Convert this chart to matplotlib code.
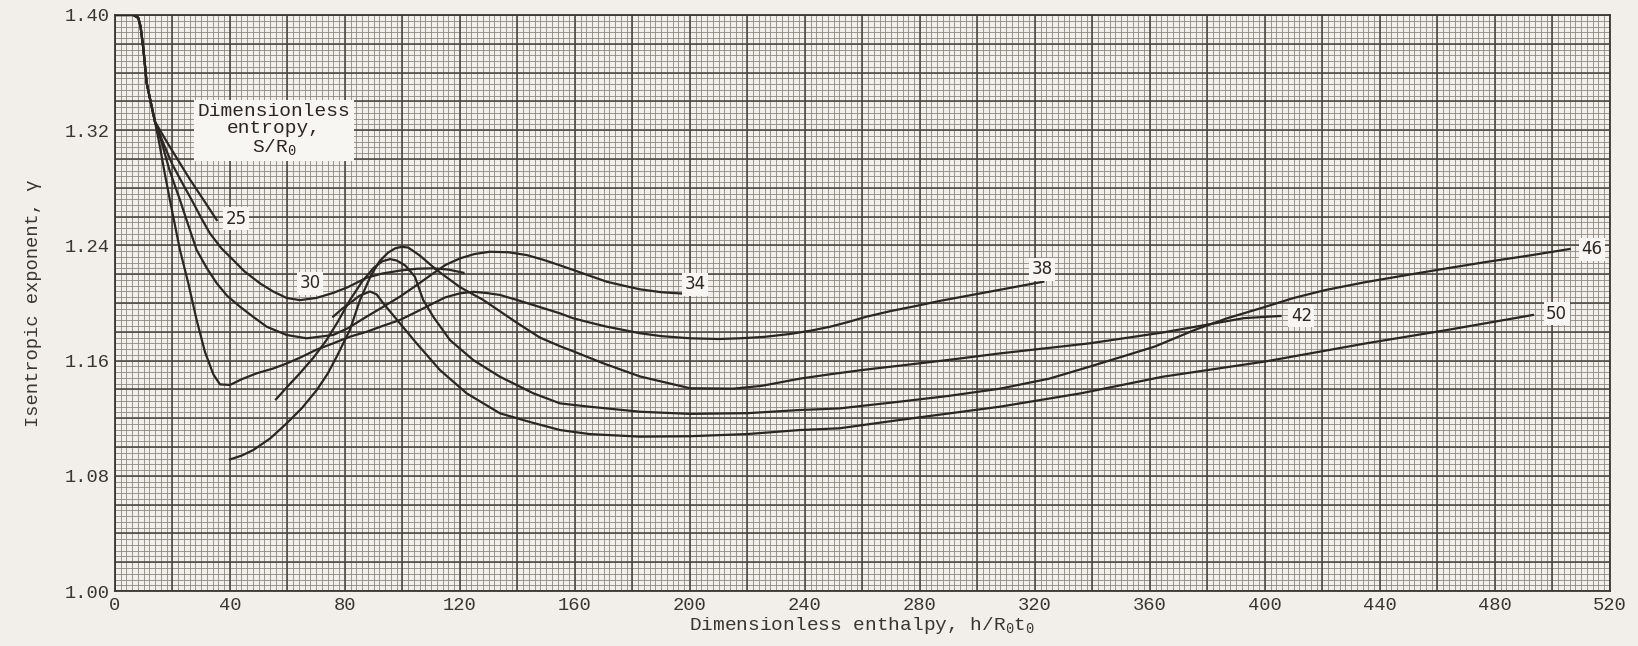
import numpy as np
import matplotlib.pyplot as plt

# isentropic exponent vs dimensionless enthalpy, one curve per S/R0
h_25 = [0, 4, 6.4, 8.1, 8.9, 9.9, 11.0, 12.8, 13.9, 18, 22, 26, 30, 35.4]
g_25 = [1.400, 1.400, 1.400, 1.398, 1.392, 1.376, 1.353, 1.336, 1.326, 1.312, 1.299, 1.286, 1.274, 1.2576]

h_30 = [0, 4, 6.4, 8.1, 8.9, 9.9, 11.0, 12.8, 13.9, 17, 20, 23.5, 26.7, 30, 33, 37, 41.1, 45, 50.4, 55,
        59.7, 64.3, 70, 75.9, 81, 87.5, 93, 99.1, 105, 110.7, 116, 121.2]
g_30 = [1.400, 1.400, 1.400, 1.398, 1.392, 1.376, 1.353, 1.336, 1.326, 1.310, 1.296, 1.283, 1.2715, 1.259,
        1.2484, 1.238, 1.2299, 1.222, 1.2137, 1.208, 1.2035, 1.202, 1.2035, 1.207, 1.211, 1.2175, 1.2205,
        1.2225, 1.2238, 1.2241, 1.2232, 1.221]

h_34 = [0, 4, 6.4, 8.1, 8.9, 9.9, 11.0, 12.8, 13.9, 16, 19, 22.6, 25, 28.4, 32, 35.4, 39, 43.5, 48, 52.8,
        59.7, 66.7, 75.9, 81, 87.5, 93, 99.1, 105, 110.7, 115, 120, 125, 130.4, 137, 143.2, 149, 155, 160,
        165, 171, 177, 182.6, 190, 199.4]
g_34 = [1.400, 1.400, 1.400, 1.398, 1.392, 1.376, 1.353, 1.336, 1.326, 1.313, 1.292, 1.2715, 1.257, 1.2368,
        1.224, 1.2137, 1.205, 1.1974, 1.1905, 1.1835, 1.1778, 1.1755, 1.1778, 1.1825, 1.1905, 1.197, 1.2044,
        1.2125, 1.2206, 1.2265, 1.231, 1.234, 1.2356, 1.2352, 1.2333, 1.230, 1.226, 1.2225, 1.219, 1.2148,
        1.212, 1.2095, 1.2075, 1.2063]

h_38 = [0, 4, 6.4, 8.1, 8.9, 9.9, 11.0, 12.8, 13.9, 15.5, 17.3, 19.1, 22.6, 25.5, 28.4, 31.3, 34.2, 36.5,
        40, 44, 49.3, 55, 59.7, 64.3, 70, 75.9, 81.7, 87.5, 93, 99.1, 105, 110.7, 115, 120, 124.6, 129,
        133.9, 140, 145.5, 154.8, 159.4, 165, 171, 182.6, 190, 200, 210, 217.4, 226, 234.8, 242, 248.7,
        255, 261.4, 270, 278.8, 287, 296.2, 310, 322.9]
g_38 = [1.400, 1.400, 1.400, 1.398, 1.392, 1.376, 1.353, 1.336, 1.326, 1.310, 1.290, 1.2715, 1.2368, 1.2137,
        1.1882, 1.166, 1.1505, 1.1435, 1.1431, 1.147, 1.1512, 1.1545, 1.158, 1.162, 1.1675, 1.172, 1.1766,
        1.180, 1.184, 1.1882, 1.194, 1.1998, 1.204, 1.2067, 1.2078, 1.207, 1.2056, 1.202, 1.1986, 1.1928,
        1.1894, 1.1865, 1.1836, 1.179, 1.177, 1.1755, 1.175, 1.1755, 1.1765, 1.1785, 1.1808, 1.1835,
        1.1868, 1.1905, 1.1945, 1.198, 1.2015, 1.2049, 1.210, 1.2148]

h_42 = [40, 44, 48.1, 54, 59.7, 65, 70.2, 74, 77.1, 81.7, 85.2, 89, 92, 95, 97.5, 99.7, 102, 106, 111.9,
        120, 128.1, 140, 147.8, 154.8, 160, 170, 182.6, 200, 215, 225, 238.3, 248.7, 260, 273, 290, 307.8,
        339, 364.4, 381.4, 392.7, 405.4]
g_42 = [1.0914, 1.094, 1.0979, 1.106, 1.1164, 1.127, 1.1396, 1.151, 1.1627, 1.1813, 1.202, 1.219, 1.229,
        1.235, 1.238, 1.239, 1.2385, 1.233, 1.2229, 1.211, 1.2021, 1.186, 1.176, 1.170, 1.166, 1.158, 1.149,
        1.1408, 1.1405, 1.1425, 1.1475, 1.1505, 1.1535, 1.1565, 1.1605, 1.165, 1.172, 1.1795, 1.1855,
        1.1895, 1.191]

h_46 = [56, 60, 64.3, 69, 73.6, 77.5, 81.7, 86, 90, 93, 95.7, 98, 101, 104.3, 107.2, 110.7, 116.5, 124.6,
        133.9, 145.5, 154.8, 165, 182.6, 200, 220, 238.3, 252, 273, 290, 307.8, 325, 339, 361.6, 375.8,
        387, 398.4, 410, 421, 435, 449.3, 463, 477.6, 492, 506]
g_46 = [1.1331, 1.142, 1.1512, 1.162, 1.1743, 1.187, 1.202, 1.215, 1.2245, 1.229, 1.2305, 1.2295, 1.226,
        1.2183, 1.2021, 1.1905, 1.1743, 1.1604, 1.1488, 1.1373, 1.1303, 1.128, 1.1245, 1.123, 1.1235,
        1.1257, 1.1268, 1.1315, 1.1355, 1.1405, 1.1475, 1.1558, 1.1697, 1.1815, 1.1895, 1.1963, 1.2035,
        1.209, 1.2145, 1.2194, 1.224, 1.2287, 1.233, 1.2375]

h_50 = [75.9, 79, 81.7, 85, 88.7, 91, 93.3, 99.1, 104.9, 113, 122.3, 133.9, 145, 154.8, 165, 182.6, 200,
        220, 238.3, 252, 273, 307.8, 336, 364.4, 399.8, 435.2, 463.5, 493.2]
g_50 = [1.1905, 1.196, 1.1998, 1.205, 1.208, 1.206, 1.1998, 1.1859, 1.172, 1.1535, 1.1373, 1.1234, 1.117,
        1.1118, 1.109, 1.1072, 1.1075, 1.109, 1.1118, 1.113, 1.1188, 1.128, 1.1373, 1.1488, 1.1593, 1.172,
        1.1813, 1.1917]

curves = [('25', h_25, g_25), ('30', h_30, g_30), ('34', h_34, g_34), ('38', h_38, g_38),
          ('42', h_42, g_42), ('46', h_46, g_46), ('50', h_50, g_50)]

x_ticks = [0, 40, 80, 120, 160, 200, 240, 280, 320, 360, 400, 440, 480, 520]
y_ticks = [1.00, 1.08, 1.16, 1.24, 1.32, 1.40]

PAPER = '#f2efea'
INK = '#2b2622'
MONO = ['Liberation Mono', 'DejaVu Sans']

fig = plt.figure(figsize=(16.38, 6.46), dpi=100, facecolor=PAPER)
ax = fig.add_axes([0.0702, 0.0851, 0.9127, 0.8917], facecolor=PAPER)
ax.set_xlim(0, 520)
ax.set_ylim(1.00, 1.40)

# graph paper
ax.vlines(np.arange(0, 521, 2), 1.0, 1.4, color='#8c8680', lw=0.6, zorder=1)
ax.hlines(np.arange(1.0, 1.4001, 0.004), 0, 520, color='#8c8680', lw=0.6, zorder=1)
ax.vlines(np.arange(0, 521, 20), 1.0, 1.4, color='#46413c', lw=1.1, zorder=1)
ax.hlines(np.arange(1.0, 1.4001, 0.02), 0, 520, color='#46413c', lw=1.1, zorder=1)

for name, h, g in curves:
    ax.plot(h, g, color=INK, lw=1.6, zorder=3, solid_joinstyle='round')

box = dict(boxstyle='square,pad=0.15', fc='#f8f6f2', ec='none')
lab = dict(fontsize=12, color=INK, zorder=5, bbox=box, va='center', ha='center')
ax.annotate('25', (h_25[-1], g_25[-1]), xytext=(14, 1), textcoords='offset points', **lab)
ax.text(67.8, 1.2137, '30', **lab)
ax.annotate('34', (h_34[-1], g_34[-1]), xytext=(5, 7), textcoords='offset points', **lab)
ax.annotate('38', (h_38[-1], g_38[-1]), xytext=(-1, 9), textcoords='offset points', **lab)
ax.annotate('42', (h_42[-1], g_42[-1]), xytext=(15, 0), textcoords='offset points', **lab)
ax.annotate('46', (h_46[-1], g_46[-1]), xytext=(16, 0), textcoords='offset points', **lab)
ax.annotate('50', (h_50[-1], g_50[-1]), xytext=(17, 1), textcoords='offset points', **lab)

ax.text(0.1065, 0.80, 'Dimensionless\nentropy,\nS/R$\\mathregular{_0}$', transform=ax.transAxes,
        ha='center', va='center', fontsize=14, family=MONO, color=INK, linespacing=1.0,
        bbox=dict(boxstyle='square,pad=0.2', fc='#f8f6f2', ec='none'), zorder=5)

ax.set_xticks(x_ticks)
ax.set_yticks(y_ticks)
ax.set_xticklabels([str(v) for v in x_ticks], family=MONO, fontsize=13.5, color='#3a3530')
ax.set_yticklabels(['%.2f' % v for v in y_ticks], family=MONO, fontsize=13.5, color='#3a3530')
ax.tick_params(length=0, pad=4)
for s in ax.spines.values():
    s.set_color('#3c3732')
    s.set_linewidth(1.3)

ax.set_xlabel('Dimensionless enthalpy, h/R$\\mathregular{_0}$t$\\mathregular{_0}$', family=MONO,
              fontsize=14, color='#3a3530', labelpad=1)
ax.set_ylabel('Isentropic exponent, \u03b3', family=MONO, fontsize=13.5, color='#3a3530', labelpad=16)

fig.savefig('out.png', dpi=100, facecolor=PAPER)
